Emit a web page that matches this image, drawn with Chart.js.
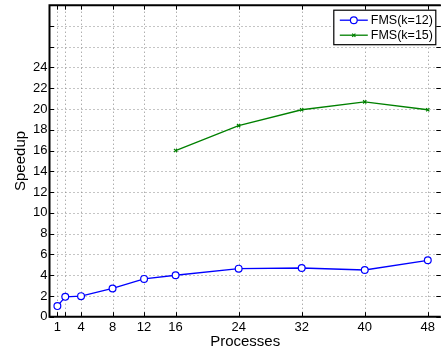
<!DOCTYPE html>
<html>
<head>
<meta charset="utf-8">
<script src="https://cdn.jsdelivr.net/npm/chart.js@4/dist/chart.umd.min.js"></script>
<style>
  html, body { margin: 0; padding: 0; background: #fff; overflow: hidden; }
  canvas { display: block; }
</style>
</head>
<body>
<canvas id="speedup" width="446" height="354"></canvas>
<script>
const processTicks = [1, 2, 4, 8, 12, 16, 24, 32, 40, 48];
const hiddenProcessLabels = [2];
const procsK12 = [1, 2, 4, 8, 12, 16, 24, 32, 40, 48];
const speedupK12 = [1.02, 1.91, 1.98, 2.72, 3.64, 3.99, 4.63, 4.69, 4.5, 5.43];
const procsK15 = [16, 24, 32, 40, 48];
const speedupK15 = [16.0, 18.4, 19.93, 20.69, 19.93];
const seriesLabels = ["FMS(k=12)", "FMS(k=15)"];
const speedupLabelMax = 24;

const FONT = "'Liberation Sans', Arial, Helvetica, sans-serif";

function toPoints(xs, ys) {
  return xs.map((x, i) => ({ x: x, y: ys[i] }));
}

function segment(ctx, x1, y1, x2, y2) {
  ctx.beginPath();
  ctx.moveTo(x1, y1);
  ctx.lineTo(x2, y2);
  ctx.stroke();
}

// dotted grid, drawn by hand so the dash pattern matches
const dottedGrid = {
  id: "dottedGrid",
  beforeDatasetsDraw(chart) {
    const { ctx, chartArea: a, scales } = chart;
    ctx.save();
    ctx.strokeStyle = "#8a8a8a";
    ctx.lineWidth = 1;
    ctx.setLineDash([1, 3]);
    scales.x.ticks.forEach((t) => {
      const px = Math.round(scales.x.getPixelForValue(t.value)) + 0.5;
      segment(ctx, px, a.bottom, px, a.top);
    });
    scales.y.ticks.forEach((t) => {
      if (t.value <= 0 || t.value >= 30) return;
      const py = Math.round(scales.y.getPixelForValue(t.value)) + 0.5;
      segment(ctx, a.left, py, a.right, py);
    });
    ctx.restore();
  }
};

// MATLAB-ish frame: black axes with ticks pointing inward
const axesFrame = {
  id: "axesFrame",
  afterDraw(chart) {
    const { ctx, chartArea: a, scales } = chart;
    const len = 4.5;
    ctx.save();
    ctx.strokeStyle = "#000";
    ctx.lineWidth = 1;
    scales.x.ticks.forEach((t) => {
      const px = Math.round(scales.x.getPixelForValue(t.value)) + 0.5;
      segment(ctx, px, a.bottom, px, a.bottom - len);
      segment(ctx, px, a.top, px, a.top + len);
    });
    scales.y.ticks.forEach((t) => {
      const py = Math.round(scales.y.getPixelForValue(t.value)) + 0.5;
      segment(ctx, a.left, py, a.left + len, py);
      segment(ctx, a.right, py, a.right - len, py);
    });
    ctx.lineWidth = 2;
    ctx.beginPath();
    ctx.moveTo(a.right, a.top);
    ctx.lineTo(a.left, a.top);
    ctx.lineTo(a.left, a.bottom);
    ctx.lineTo(a.right, a.bottom);
    ctx.stroke();
    ctx.restore();
  }
};

const boxLegend = {
  id: "boxLegend",
  afterDraw(chart) {
    const { ctx, chartArea: a } = chart;
    const w = 102, h = 34.5;
    const x0 = a.right - 5 - w, y0 = a.top + 5;
    ctx.save();
    ctx.fillStyle = "#fff";
    ctx.fillRect(x0, y0, w, h);
    ctx.strokeStyle = "#000";
    ctx.lineWidth = 1.2;
    ctx.strokeRect(x0, y0, w, h);
    ctx.font = "12.5px " + FONT;
    ctx.textBaseline = "middle";
    chart.data.datasets.forEach((ds, i) => {
      const cy = y0 + 10 + i * 15;
      ctx.strokeStyle = ds.borderColor;
      ctx.lineWidth = ds.borderWidth;
      segment(ctx, x0 + 6, cy, x0 + 34, cy);
      ctx.fillStyle = ds.pointBackgroundColor;
      ctx.strokeStyle = ds.borderColor;
      ctx.lineWidth = ds.pointBorderWidth;
      Chart.helpers.drawPoint(ctx, {
        pointStyle: ds.pointStyle,
        radius: ds.pointRadius,
        borderWidth: ds.pointBorderWidth,
        rotation: 0
      }, x0 + 20, cy);
      ctx.fillStyle = "#000";
      ctx.fillText(ds.label, x0 + 37, cy + 0.5);
    });
    ctx.restore();
  }
};

new Chart(document.getElementById("speedup"), {
  type: "line",
  data: {
    datasets: [
      {
        label: seriesLabels[0],
        data: toPoints(procsK12, speedupK12),
        borderColor: "#0000ff",
        borderWidth: 1.3,
        pointStyle: "circle",
        pointRadius: 3.4,
        pointBorderWidth: 1.2,
        pointBackgroundColor: "#fff",
        tension: 0
      },
      {
        label: seriesLabels[1],
        data: toPoints(procsK15, speedupK15),
        borderColor: "#008000",
        borderWidth: 1.3,
        pointStyle: "crossRot",
        pointRadius: 2.3,
        pointBorderWidth: 1.2,
        pointBackgroundColor: "#008000",
        tension: 0
      }
    ]
  },
  options: {
    responsive: false,
    animation: false,
    layout: { padding: { top: -2, right: 0, bottom: 0, left: 0 } },
    plugins: { legend: { display: false }, tooltip: { enabled: false } },
    scales: {
      x: {
        type: "linear",
        min: 0,
        max: 49.65,
        afterBuildTicks: (scale) => {
          scale.ticks = processTicks.map((v) => ({ value: v }));
        },
        afterFit: (scale) => {
          scale.height = 37.3;
          scale.paddingLeft = 0;
          scale.paddingRight = 0;
        },
        grid: { display: false, drawTicks: false },
        border: { display: false },
        ticks: {
          autoSkip: false,
          maxRotation: 0,
          padding: 3,
          color: "#000",
          font: { family: FONT, size: 13 },
          callback: (v) => (hiddenProcessLabels.includes(v) ? "" : String(v))
        },
        title: {
          display: true,
          text: "Processes",
          color: "#000",
          font: { family: FONT, size: 15 },
          padding: { top: 0, bottom: 3 }
        }
      },
      y: {
        min: 0,
        max: 30,
        afterFit: (scale) => {
          scale.width = 49.5;
          scale.paddingTop = 0;
          scale.paddingBottom = 0;
        },
        grid: { display: false, drawTicks: false },
        border: { display: false },
        ticks: {
          stepSize: 2,
          padding: 2,
          color: "#000",
          font: { family: FONT, size: 13 },
          callback: (v) => (v > speedupLabelMax ? "" : String(v))
        },
        title: {
          display: true,
          text: "Speedup",
          color: "#000",
          font: { family: FONT, size: 15 },
          padding: { top: 11.5, bottom: 0 }
        }
      }
    }
  },
  plugins: [dottedGrid, axesFrame, boxLegend]
});
</script>
</body>
</html>
